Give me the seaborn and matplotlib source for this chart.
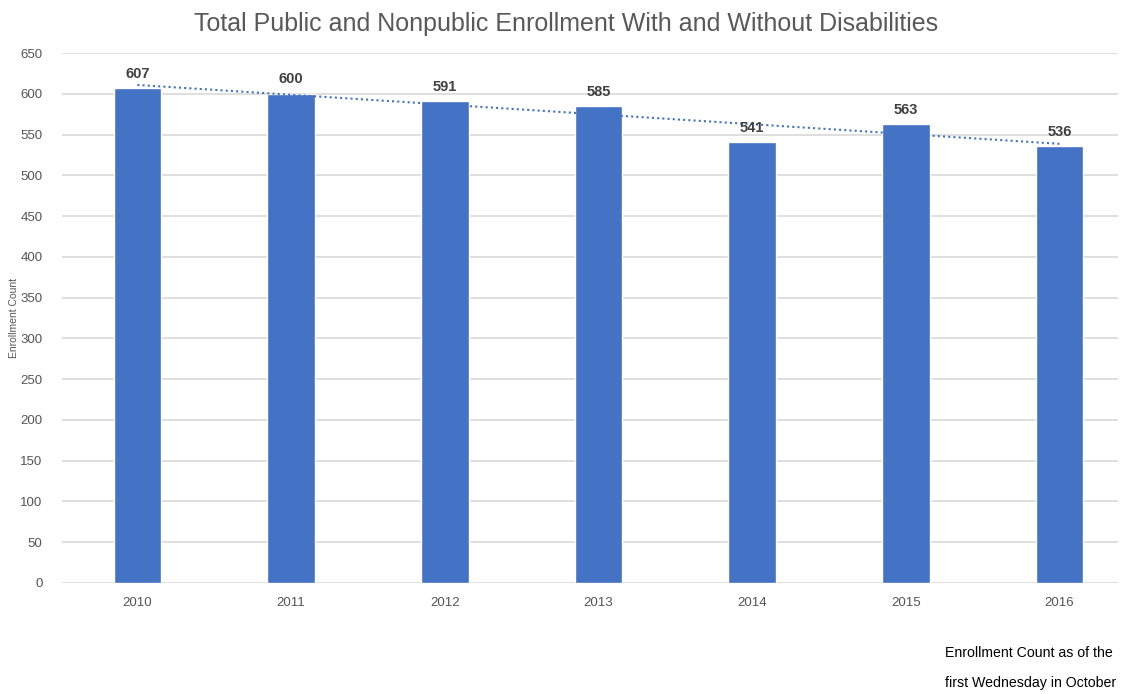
import numpy as np
import pandas as pd
import seaborn as sns
import matplotlib.pyplot as plt

years = ["2010", "2011", "2012", "2013", "2014", "2015", "2016"]
enrollment = [607, 600, 591, 585, 541, 563, 536]

df = pd.DataFrame({"year": years, "count": enrollment})

sns.set_style("white")
plt.rcParams["font.family"] = ["Liberation Sans", "DejaVu Sans"]

fig = plt.figure(figsize=(11.32, 6.94), dpi=100)
ax = fig.add_axes([0.0548, 0.160, 0.9328, 0.7636])

sns.barplot(data=df, x="year", y="count", color="#4472c4", width=0.31,
            saturation=1, ax=ax, zorder=3)

# linear trendline
xs = np.arange(len(years))
m, b = np.polyfit(xs, enrollment, 1)
ax.plot(xs, m * xs + b, linestyle=(0, (1, 1.5)), color="#4472c4", lw=1.5, zorder=4)

for i, v in enumerate(enrollment):
    ax.text(i, v + 9, str(v), ha="center", va="bottom", fontsize=10.5,
            fontweight="bold", color="#404040", zorder=5)

ax.set_ylim(0, 650)
ax.set_yticks(range(0, 651, 50))
ax.set_xlim(-0.49, 6.38)
ax.grid(axis="y", color="#d9d9d9", lw=1.2, zorder=0)
ax.set_axisbelow(True)
for s in ax.spines.values():
    s.set_visible(False)
ax.tick_params(axis="both", length=0, labelsize=9.5, labelcolor="#555555")
ax.tick_params(axis="x", pad=10)
ax.tick_params(axis="y", pad=14)
ax.set_xlabel("")
ax.set_ylabel("Enrollment Count", fontsize=7.5, color="#555555")
ax.yaxis.set_label_coords(-0.041, 0.5)

fig.suptitle("Total Public and Nonpublic Enrollment With and Without Disabilities",
             y=0.982, fontsize=18, color="#595959")

fig.text(0.835, 0.037, "Enrollment Count as of the\nfirst Wednesday in October",
         fontsize=10.2, color="#000000", linespacing=2.45, va="center", ha="left")

fig.savefig("out.png", dpi=100)
